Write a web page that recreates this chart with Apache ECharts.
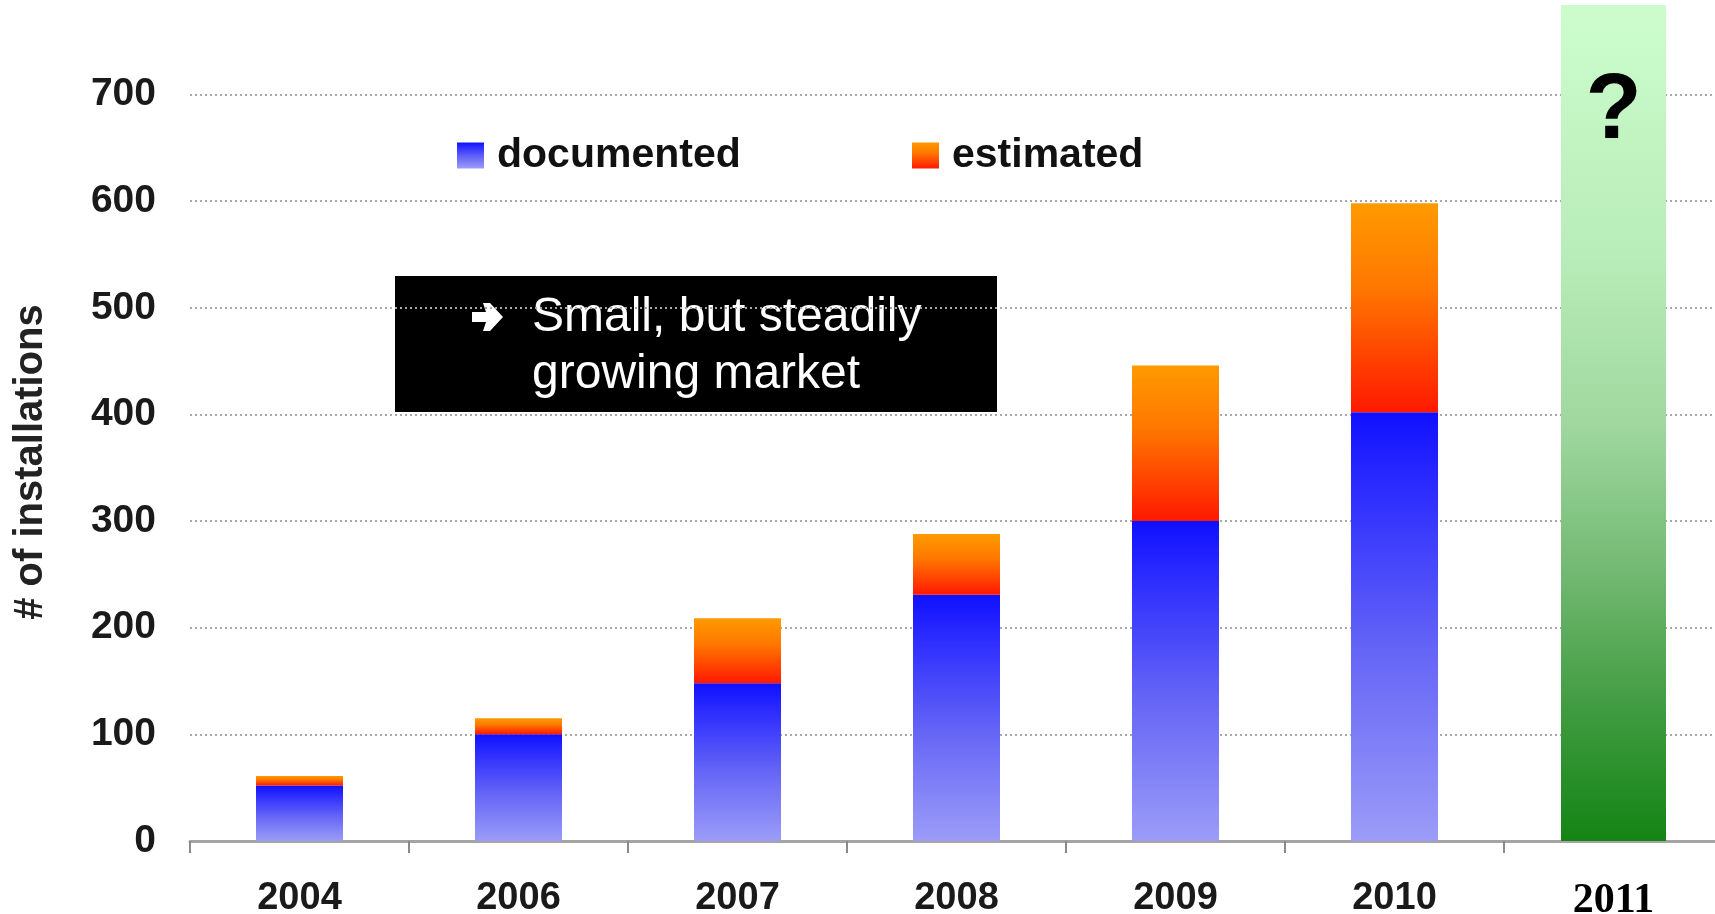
<!DOCTYPE html>
<html>
<head>
<meta charset="utf-8">
<script src="https://cdn.jsdelivr.net/npm/echarts@6/dist/echarts.min.js"></script>
<style>
  html, body { margin: 0; padding: 0; background: #ffffff; }
  #chart { width: 1715px; height: 914px; }
</style>
</head>
<body>
<div id="chart"></div>
<script>
// Installations per year
const years = ['2004', '2006', '2007', '2008', '2009', '2010', '2011'];
const documented = [52, 100, 148, 231, 300, 402, null];
const estimated = [9, 15, 61, 57, 146, 196, null];
// 2011 is an open question: a full-height placeholder bar
const outlook = [null, null, null, null, null, null, 784];
const outlookMark = '?';
const yAxisMax = 784;
const yAxisStep = 100;
const yAxisTitle = '# of installations';
const noteLines = ['Small, but steadily', 'growing market'];

const sans = '"Liberation Sans", Arial, sans-serif';
const serif = '"Liberation Serif", "Times New Roman", serif';

const blueFill = new echarts.graphic.LinearGradient(0, 0, 0, 1, [
  { offset: 0, color: '#1010ff' },
  { offset: 0.15, color: '#2828ff' },
  { offset: 0.55, color: '#6464f6' },
  { offset: 1, color: '#9c9cf8' }
]);
const orangeFill = new echarts.graphic.LinearGradient(0, 0, 0, 1, [
  { offset: 0, color: '#ff9a00' },
  { offset: 0.4, color: '#ff7800' },
  { offset: 0.88, color: '#ff2c00' },
  { offset: 1, color: '#ff1800' }
]);
const greenFill = new echarts.graphic.LinearGradient(0, 0, 0, 1, [
  { offset: 0, color: '#cdfdcd' },
  { offset: 0.3, color: '#b8ecb8' },
  { offset: 0.5, color: '#a0d8a0' },
  { offset: 0.68, color: '#72b872' },
  { offset: 0.85, color: '#3e9a3e' },
  { offset: 1, color: '#148414' }
]);

const legendText = { fontFamily: sans, fontWeight: 'bold', fontSize: 41, color: '#111', padding: [0, 0, 0, 8] };

const chart = echarts.init(document.getElementById('chart'), null, { renderer: 'canvas' });

chart.setOption({
  backgroundColor: '#ffffff',
  animation: false,
  grid: { left: 190, top: 5, width: 1533, bottom: 73, containLabel: false, outerBoundsMode: 'none' },
  legend: [
    {
      data: ['documented'],
      left: 457, top: 135, padding: 0,
      icon: 'rect', itemWidth: 27, itemHeight: 26,
      textStyle: legendText
    },
    {
      data: ['estimated'],
      left: 912, top: 135, padding: 0,
      icon: 'rect', itemWidth: 27, itemHeight: 26,
      textStyle: legendText
    }
  ],
  xAxis: [
    {
      type: 'category',
      data: years,
      boundaryGap: true,
      axisLine: { lineStyle: { color: '#a4a4a4', width: 3 } },
      axisTick: { show: true, inside: false, length: 12, lineStyle: { color: '#8a8a8a', width: 2 } },
      axisLabel: {
        margin: 39,
        formatter: v => v === '2011' ? '{o|' + v + '}' : '{n|' + v + '}',
        rich: {
          n: { fontFamily: sans, fontWeight: 'bold', fontSize: 38, color: '#1a1a1a' },
          o: { fontFamily: serif, fontWeight: 'bold', fontSize: 42, color: '#000' }
        }
      }
    },
    {
      type: 'category',
      data: years,
      show: false
    }
  ],
  yAxis: {
    type: 'value',
    min: 0,
    max: yAxisMax,
    interval: yAxisStep,
    axisLine: { show: false },
    axisTick: { show: false },
    axisLabel: {
      margin: 34,
      showMaxLabel: false,
      fontFamily: sans, fontWeight: 'bold', fontSize: 39, color: '#1a1a1a'
    },
    splitLine: {
      show: true,
      showMaxLine: false,
      lineStyle: { color: '#a8a8a8', width: 2, type: [2, 3] }
    }
  },
  series: [
    {
      name: 'documented',
      type: 'bar',
      stack: 'installs',
      barWidth: 87,
      data: documented,
      itemStyle: { color: blueFill }
    },
    {
      name: 'estimated',
      type: 'bar',
      stack: 'installs',
      barWidth: 87,
      data: estimated,
      itemStyle: { color: orangeFill }
    },
    {
      name: 'outlook',
      type: 'bar',
      xAxisIndex: 1,
      barWidth: 105,
      data: outlook,
      itemStyle: { color: greenFill },
      label: {
        show: true,
        position: 'insideTop',
        distance: 62,
        formatter: () => outlookMark,
        fontFamily: sans, fontWeight: 'bold', fontSize: 92, color: '#000'
      }
    }
  ],
  graphic: [
    {
      type: 'text',
      x: 31, y: 462,
      rotation: Math.PI / 2,
      style: {
        text: yAxisTitle,
        fontFamily: sans, fontWeight: 'bold', fontSize: 40, fill: '#222',
        align: 'center', verticalAlign: 'middle'
      }
    },
    {
      type: 'rect',
      shape: { x: 395, y: 276, width: 602, height: 136 },
      style: { fill: '#000' }
    },
    {
      // heavy right arrow in front of the note
      type: 'polygon',
      shape: {
        points: [
          [472, 312], [486, 312], [483, 303], [490, 303],
          [503, 317],
          [490, 331], [483, 331], [486, 322], [472, 322]
        ]
      },
      style: { fill: '#fff' }
    },
    {
      type: 'text',
      x: 532, y: 318,
      style: {
        text: noteLines[0],
        fontFamily: sans, fontSize: 48, fill: '#fff',
        align: 'left', verticalAlign: 'middle'
      }
    },
    {
      type: 'text',
      x: 532, y: 375,
      style: {
        text: noteLines[1],
        fontFamily: sans, fontSize: 48, fill: '#fff',
        align: 'left', verticalAlign: 'middle'
      }
    }
  ]
});
</script>
</body>
</html>
